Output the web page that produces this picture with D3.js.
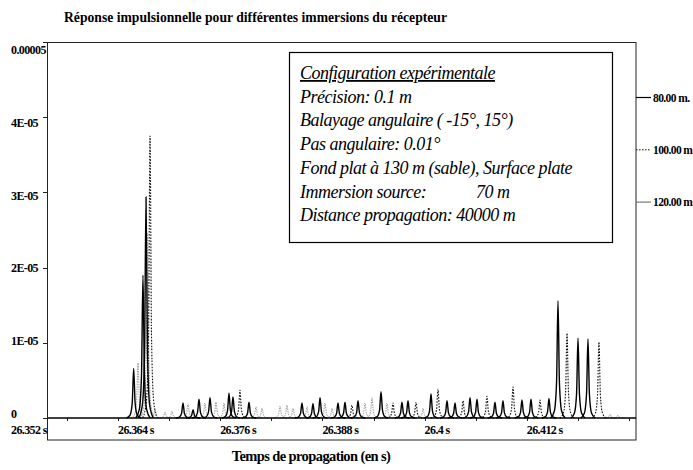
<!DOCTYPE html>
<html><head><meta charset="utf-8">
<script src="https://cdn.jsdelivr.net/npm/d3@7"></script>
<style>
body{margin:0;background:#fff}
svg{display:block}
</style></head><body>
<svg id="c" width="693" height="470"></svg>
<script>
// ---------- DATA ----------
const seriesNames = ["80.00 m.", "100.00 m", "120.00 m"];

const peakTimes80 = [26.36584, 26.36693, 26.36729, 26.37163, 26.37281, 26.37351, 26.37480, 26.37703, 26.37750, 26.37938,
  26.38560, 26.38689, 26.38772, 26.38983, 26.39065, 26.39218, 26.39488, 26.39734, 26.39805, 26.40075,
  26.40263, 26.40357, 26.40533, 26.40615, 26.40826, 26.40920, 26.41143, 26.41249, 26.41460, 26.41566,
  26.41801, 26.41918];
const peakAmps80 = [6.6e-6, 1.90e-5, 2.94e-5, 2.0e-6, 1.1e-6, 2.5e-6, 2.7e-6, 3.3e-6, 2.8e-6, 2.1e-6,
  2.0e-6, 1.9e-6, 2.7e-6, 2.0e-6, 2.1e-6, 2.3e-6, 3.5e-6, 2.1e-6, 2.3e-6, 3.2e-6,
  2.3e-6, 2.0e-6, 2.7e-6, 2.5e-6, 2.1e-6, 2.3e-6, 2.4e-6, 2.5e-6, 2.6e-6, 1.56e-5,
  1.06e-5, 1.05e-5];

const peakTimes100 = [26.36776, 26.37832, 26.39147, 26.39629, 26.39899, 26.40157, 26.40451, 26.40732, 26.41038, 26.41355,
  26.41672, 26.42047];
const peakAmps100 = [3.75e-5, 3.7e-6, 1.7e-6, 2.0e-6, 2.1e-6, 3.8e-6, 2.3e-6, 2.9e-6, 4.1e-6, 2.4e-6,
  1.13e-5, 1.01e-5];

const peakTimes120 = [26.36635, 26.36746, 26.36834, 26.36952, 26.37034, 26.37222, 26.37421, 26.37551, 26.37645, 26.38020,
  26.38091, 26.38302, 26.38384, 26.38455, 26.38619, 26.38830, 26.38913, 26.39300, 26.39382, 26.39558,
  26.39981, 26.42177, 26.42271];
const peakAmps120 = [7.3e-6, 2.46e-5, 1.1e-6, 0.8e-6, 0.9e-6, 1.9e-6, 2.0e-6, 2.1e-6, 2.0e-6, 1.5e-6,
  1.3e-6, 1.6e-6, 1.7e-6, 1.3e-6, 1.5e-6, 2.0e-6, 1.3e-6, 2.0e-6, 2.7e-6, 2.0e-6,
  1.3e-6, 0.5e-6, 0.4e-6];

const yTickValues = [0, 1e-5, 2e-5, 3e-5, 4e-5, 5e-5];
const yTickLabels = ["0", "1E-05", "2E-05", "3E-05", "4E-05", "0.00005"];
const xTickValues = [26.352, 26.364, 26.376, 26.388, 26.4, 26.412];
const xTickLabels = ["26.352 s", "26.364 s", "26.376 s", "26.388 s", "26.4 s", "26.412 s"];
const xMinorStart = 26.358, xMinorStep = 0.006, xMinorCount = 12;

const chartTitle = "Réponse impulsionnelle pour différentes immersions du récepteur";
const xAxisTitle = "Temps de propagation (en s)";
const boxLines = [
  ["Configuration expérimentale"],
  ["Précision: 0.1 m"],
  ["Balayage angulaire ( -15°, 15°)"],
  ["Pas angulaire: 0.01°"],
  ["Fond plat à 130 m (sable), Surface plate"],
  ["Immersion source:", "70 m"],
  ["Distance propagation: 40000 m"]
];

// ---------- DRAWING ----------
const FONT = "'Liberation Serif'";
const svg = d3.select("#c");
const L = 48, R = 636, T = 42, Z = 418, B = 440;

const x = d3.scaleLinear().domain([26.35578, 26.42482]).range([L, R]);
const y = d3.scaleLinear().domain([0, 5e-5]).range([Z, T]);
const yLab = d3.scaleLinear().domain([0, 5e-5]).range([Z - 4, T + 8]);

// frame
svg.append("rect").attr("x", L - 0.5).attr("y", T + 0.5).attr("width", R - L + 0.5).attr("height", B - T - 0.5)
  .attr("fill", "none").attr("stroke", "#222").attr("stroke-width", 1);

// title
svg.append("text").attr("font-family", FONT).attr("x", 64).attr("y", 22).attr("font-weight", "bold").attr("font-size", 15.5)
  .attr("textLength", 383).attr("lengthAdjust", "spacingAndGlyphs").text(chartTitle);

// y ticks
svg.append("g").selectAll("line").data(yTickValues).join("line")
  .attr("x1", L - 5).attr("x2", L).attr("y1", d => Math.round(y(d)) + 0.5).attr("y2", d => Math.round(y(d)) + 0.5)
  .attr("stroke", "#222");
svg.append("g").selectAll("text").data(yTickValues).join("text")
  .attr("font-family", FONT)
  .attr("x", 11).attr("y", d => yLab(d) + 4)
  .attr("font-weight", "bold").attr("font-size", 12).attr("letter-spacing", -0.6)
  .text((d, i) => yTickLabels[i]);

// x minor ticks on baseline
const minorTicks = d3.range(xMinorCount).map(i => xMinorStart + i * xMinorStep);
svg.append("g").selectAll("line").data(minorTicks).join("line")
  .attr("x1", d => Math.round(x(d)) + 0.5).attr("x2", d => Math.round(x(d)) + 0.5)
  .attr("y1", Z).attr("y2", Z + 3).attr("stroke", "#222");

// x labels (left-aligned at their time; first one sits under the y labels)
svg.append("g").selectAll("text").data(xTickValues).join("text")
  .attr("font-family", FONT)
  .attr("x", (d, i) => i === 0 ? 11 : x(d))
  .attr("y", 434)
  .attr("font-weight", "bold").attr("font-size", 12).attr("letter-spacing", -0.6)
  .text((d, i) => xTickLabels[i]);

// x axis title
svg.append("text").attr("font-family", FONT).attr("x", 311).attr("y", 461).attr("text-anchor", "middle")
  .attr("font-weight", "bold").attr("font-size", 14.5).attr("letter-spacing", -0.6).text(xAxisTitle);

// series
const series = [
  {name: seriesNames[2], times: peakTimes120, amps: peakAmps120, stroke: "#9a9a9a", width: 1, dash: "1.5,1"},
  {name: seriesNames[1], times: peakTimes100, amps: peakAmps100, stroke: "#111", width: 1.1, dash: "1.6,1.4"},
  {name: seriesNames[0], times: peakTimes80, amps: peakAmps80, stroke: "#000", width: 1.4, dash: null}
];
const halfW = 0.00085;
const shape = [[-1, 0], [-0.5, 0.06], [-0.2, 0.3], [0, 1], [0.2, 0.3], [0.5, 0.06], [1, 0]];
const line = d3.line().x(d => x(d[0])).y(d => y(d[1])).curve(d3.curveMonotoneX);

series.forEach(s => {
  const g = svg.append("g");
  g.selectAll("path").data(s.times.map((t, i) => ({t, a: s.amps[i]}))).join("path")
    .attr("d", p => line(shape.map(([u, v]) => [p.t + u * halfW, v * p.a])))
    .attr("fill", "none").attr("stroke", s.stroke).attr("stroke-width", s.width)
    .attr("stroke-dasharray", s.dash);
});

// baseline
svg.append("line").attr("x1", L).attr("x2", R).attr("y1", y(0)).attr("y2", y(0))
  .attr("stroke", "#000").attr("stroke-width", 1.6);

// text box
svg.append("rect").attr("x", 289.5).attr("y", 52.5).attr("width", 323).attr("height", 190)
  .attr("fill", "#fff").attr("stroke", "#000").attr("stroke-width", 1.2);
const tb = svg.append("g");
boxLines.forEach((ln, i) => {
  const t = tb.append("text").attr("font-family", FONT).attr("font-style", "italic").attr("font-size", 18)
    .attr("letter-spacing", -0.5).attr("x", 300).attr("y", 79 + i * 23.7);
  t.append("tspan").text(ln[0]);
  if (ln[1]) t.append("tspan").attr("x", 476).text(ln[1]);
  if (i === 0) t.attr("text-decoration", "underline");
});

// legend
const legOrder = [
  {name: seriesNames[0], stroke: "#000", width: 1.2, dash: null},
  {name: seriesNames[1], stroke: "#111", width: 1, dash: "1.6,1.4"},
  {name: seriesNames[2], stroke: "#777", width: 1.2, dash: null}
];
const lg = svg.append("g");
legOrder.forEach((s, i) => {
  const ly = 97.5 + i * 52.3;
  lg.append("line").attr("x1", R).attr("x2", 651).attr("y1", ly).attr("y2", ly)
    .attr("stroke", s.stroke).attr("stroke-width", s.width).attr("stroke-dasharray", s.dash);
  lg.append("text").attr("font-family", FONT).attr("x", 653).attr("y", ly + 4).attr("font-weight", "bold").attr("font-size", 11.5)
    .attr("letter-spacing", -0.6).text(s.name);
});
</script>
</body></html>
